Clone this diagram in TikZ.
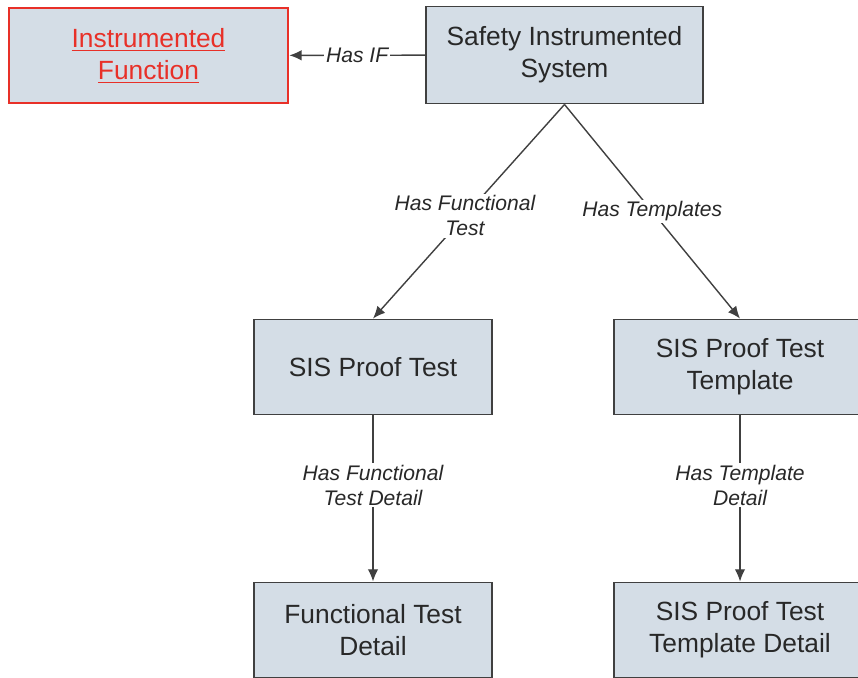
\documentclass[tikz,border=0pt]{standalone}
\usepackage{fontspec}
\setmainfont{Liberation Sans}
\usepackage{tikz}
\usetikzlibrary{arrows.meta}
\definecolor{boxfill}{RGB}{212,221,230}
\definecolor{boxline}{RGB}{64,64,64}
\definecolor{boxtext}{RGB}{40,40,40}
\definecolor{linkred}{RGB}{232,48,40}
\tikzset{
  family/.style={draw=boxline, fill=boxfill, line width=1.1pt, align=center,
    text=boxtext, font=\fontsize{15}{18.2}\selectfont, inner sep=0pt,
    minimum width=4.76cm, minimum height=1.9cm},
  rel/.style={fill=white, align=center, inner sep=1pt, text=boxtext,
    font=\fontsize{12}{14.2}\selectfont\itshape},
  link/.style={draw=boxline, line width=0.8pt},
  arr/.style={link, -{Latex[length=7pt,width=6pt]}}
}
\begin{document}
\begin{tikzpicture}[x=0.02cm, y=-0.02cm]
  \useasboundingbox (0,0) rectangle (858,677);%
  \clip (0,0) rectangle (858,677);%
  {
    % top row
    \node[family, minimum width=5.54cm, minimum height=1.94cm] (sis) at (564.5,55) {Safety Instrumented\\System};%
    \node[family, draw=linkred, text=linkred, line width=1.5pt, minimum width=5.58cm, minimum height=1.9cm] (if) at (148.5,55.5)
      {\underline{Instrumented}\\\underline{Function}};%
    \draw[arr] (sis) -- node[rel] {Has IF} (if);%
  }
  {
    % second row
    \node[family] (pt) at (373,367) {SIS Proof Test};%
    \node[family, minimum width=5.04cm] (ptt) at (740,367) {SIS Proof Test\\Template};%
    \draw[arr] (sis.south) -- node[rel, pos=0.52] {Has Functional\\Test} (pt.north);%
    \draw[arr] (sis.south) -- node[rel, pos=0.5] {Has Templates} (ptt.north);%
  }
  {
    % details
    \node[family] (ftd) at (373,630) {Functional Test\\Detail};%
    \node[family, minimum width=5.04cm] (pttd) at (740,630) {SIS Proof Test\\Template Detail};%
    \draw[arr] (pt) -- node[rel, pos=0.42] {Has Functional\\Test Detail} (ftd);%
    \draw[arr] (ptt) -- node[rel, pos=0.42] {Has Template\\Detail} (pttd);%
  }
\end{tikzpicture}
\end{document}
